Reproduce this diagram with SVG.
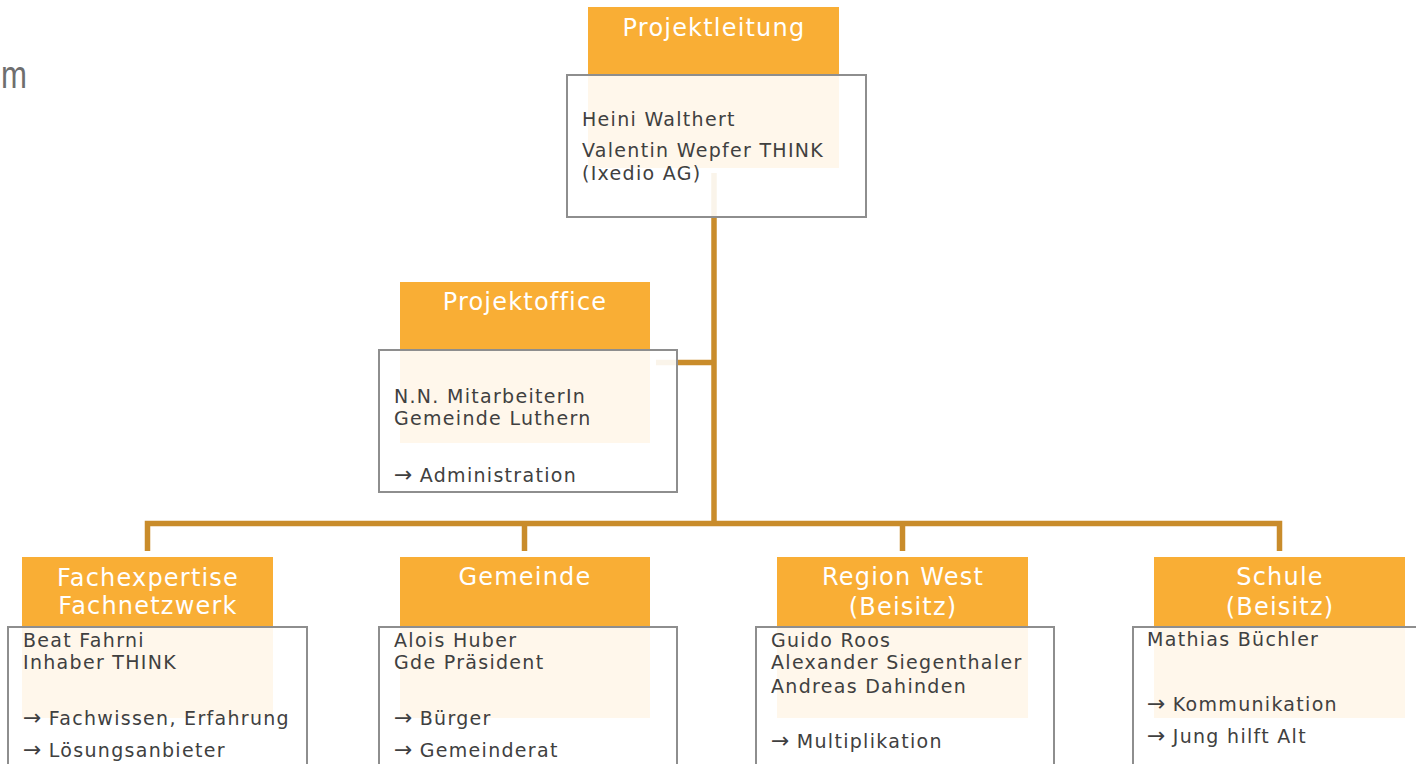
<svg xmlns="http://www.w3.org/2000/svg" width="1416" height="764" viewBox="0 0 1416 764">
<style>
.hdr{fill:#F9AE35}
.box{fill:#FFFFFF;fill-opacity:0.9;stroke:#8E8E8E;stroke-width:2}
.title{font-family:"DejaVu Sans",sans-serif;font-size:24px;letter-spacing:1.2px;fill:#FFFFFF;text-anchor:middle}
.body{font-family:"DejaVu Sans",sans-serif;font-size:19px;letter-spacing:1.3px;fill:#404040}
.ar{font-family:"DejaVu Sans",sans-serif;font-size:22px;letter-spacing:0}
.conn{fill:none;stroke:#C98C2B;stroke-width:5.5;stroke-linejoin:miter;stroke-linecap:butt}
</style>
<rect width="1416" height="764" fill="#FFFFFF"/>
<text x="0" y="88" transform="translate(1 0) scale(0.82 1)" font-family="Liberation Sans, sans-serif" font-size="38" fill="#6E6E6E">m</text>

<g id="connectors">
<path class="conn" d="M714 173 V523.5"/>
<path class="conn" d="M656 362.5 H714"/>
<path class="conn" d="M147.5 551 V523.5 H1279.5 V551"/>
<path class="conn" d="M524.5 523.5 V551"/>
<path class="conn" d="M902.5 523.5 V551"/>
</g>

<g id="projektleitung">
<rect class="hdr" x="588" y="7" width="251" height="161"/>
<rect class="box" x="567" y="75" width="299" height="142"/>
<text class="title" x="714" y="36" font-size="25">Projektleitung</text>
<text class="body" x="582" y="126">Heini Walthert</text>
<text class="body" x="582" y="157">Valentin Wepfer THINK</text>
<text class="body" x="582" y="180">(Ixedio AG)</text>
</g>

<g id="projektoffice">
<rect class="hdr" x="400" y="282" width="250" height="161"/>
<rect class="box" x="379" y="350" width="298" height="142"/>
<text class="title" x="525" y="310">Projektoffice</text>
<text class="body" x="394" y="403">N.N. MitarbeiterIn</text>
<text class="body" x="394" y="425">Gemeinde Luthern</text>
<text class="body" x="394" y="482"><tspan class="ar">→</tspan> Administration</text>
</g>

<g id="fachexpertise">
<rect class="hdr" x="22" y="557" width="251" height="161"/>
<rect class="box" x="8" y="627" width="299" height="180"/>
<text class="title" x="148" y="586">Fachexpertise</text>
<text class="title" x="148" y="614">Fachnetzwerk</text>
<text class="body" x="23" y="647">Beat Fahrni</text>
<text class="body" x="23" y="669">Inhaber THINK</text>
<text class="body" x="23" y="725"><tspan class="ar">→</tspan> Fachwissen, Erfahrung</text>
<text class="body" x="23" y="757"><tspan class="ar">→</tspan> Lösungsanbieter</text>
</g>

<g id="gemeinde">
<rect class="hdr" x="400" y="557" width="250" height="161"/>
<rect class="box" x="379" y="627" width="298" height="180"/>
<text class="title" x="525" y="585">Gemeinde</text>
<text class="body" x="394" y="647">Alois Huber</text>
<text class="body" x="394" y="669">Gde Präsident</text>
<text class="body" x="394" y="725"><tspan class="ar">→</tspan> Bürger</text>
<text class="body" x="394" y="757"><tspan class="ar">→</tspan> Gemeinderat</text>
</g>

<g id="region-west">
<rect class="hdr" x="777" y="557" width="251" height="161"/>
<rect class="box" x="756" y="627" width="298" height="180"/>
<text class="title" x="903" y="585">Region West</text>
<text class="title" x="903" y="615">(Beisitz)</text>
<text class="body" x="771" y="647">Guido Roos</text>
<text class="body" x="771" y="669">Alexander Siegenthaler</text>
<text class="body" x="771" y="693">Andreas Dahinden</text>
<text class="body" x="771" y="748"><tspan class="ar">→</tspan> Multiplikation</text>
</g>

<g id="schule">
<rect class="hdr" x="1154" y="557" width="251" height="161"/>
<rect class="box" x="1133" y="627" width="300" height="180"/>
<text class="title" x="1280" y="585">Schule</text>
<text class="title" x="1280" y="615">(Beisitz)</text>
<text class="body" x="1147" y="646">Mathias Büchler</text>
<text class="body" x="1147" y="711"><tspan class="ar">→</tspan> Kommunikation</text>
<text class="body" x="1147" y="743"><tspan class="ar">→</tspan> Jung hilft Alt</text>
</g>
</svg>
